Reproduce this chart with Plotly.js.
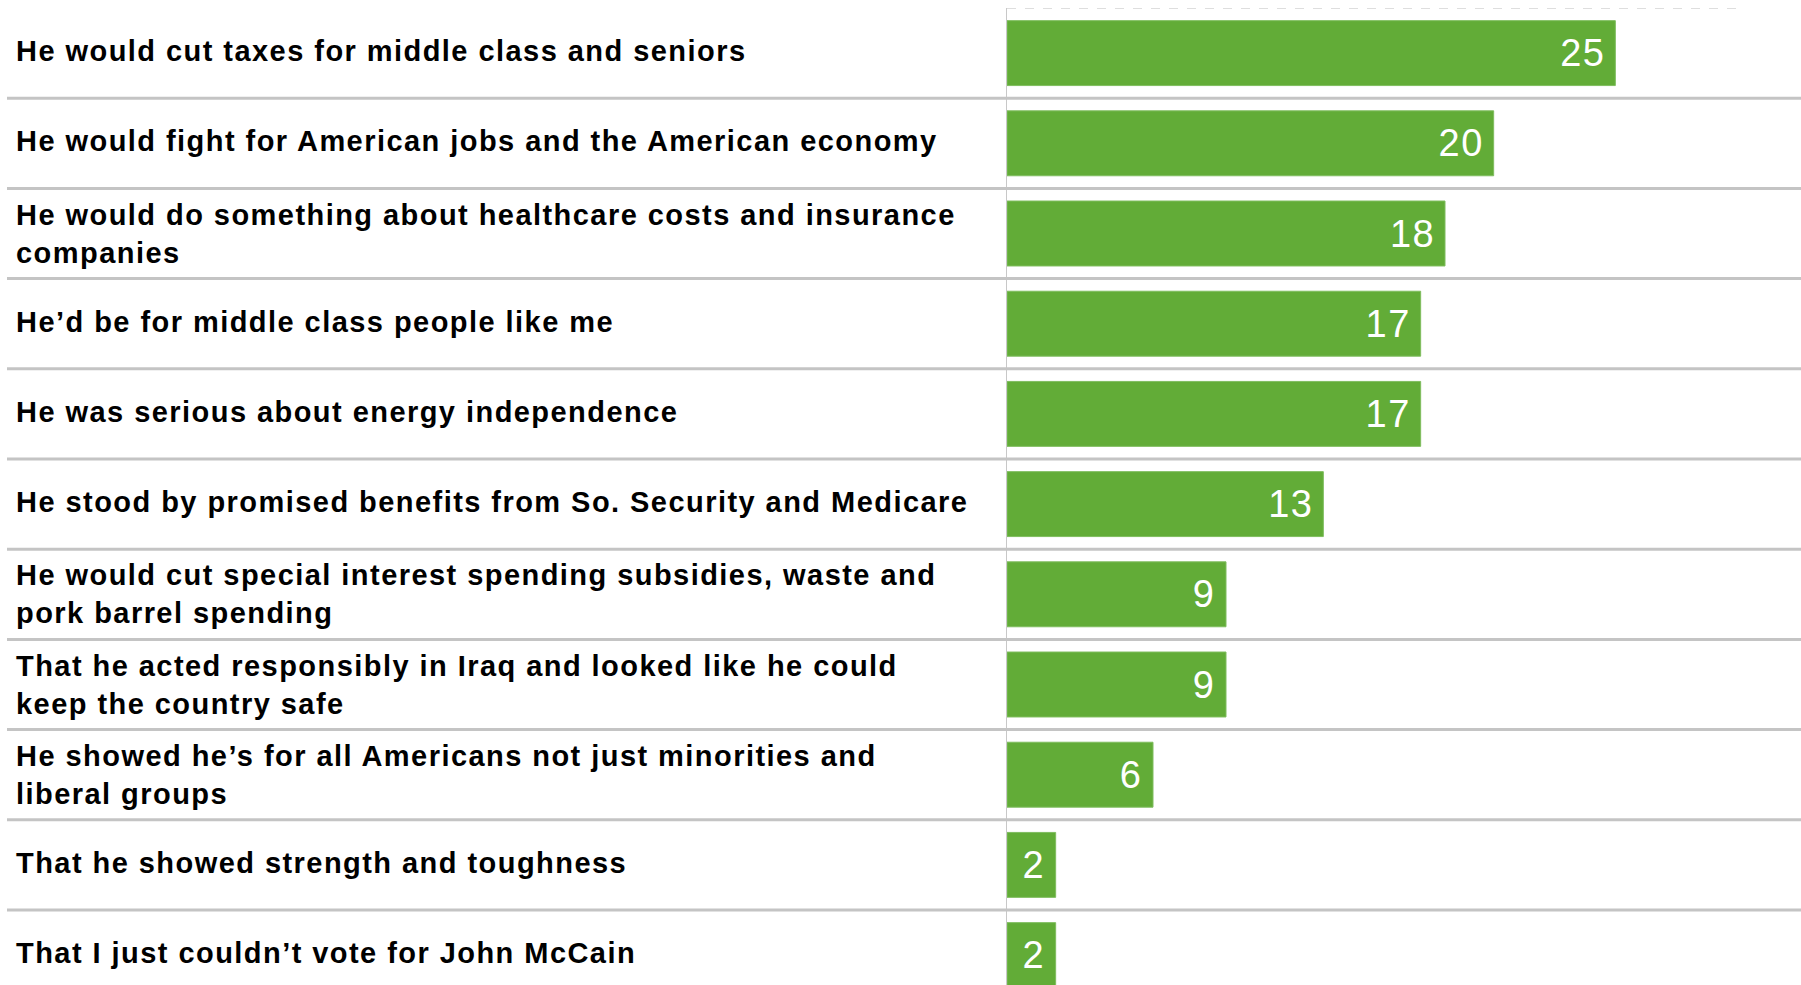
<!DOCTYPE html>
<html>
<head>
<meta charset="utf-8">
<script src="https://cdn.plot.ly/plotly-3.0.1.min.js"></script>
<style>
html,body{margin:0;padding:0;background:#fff;}
#chart{width:1801px;height:985px;}
#chart .annotation-text{letter-spacing:1.45px;}
#chart .bartext{letter-spacing:1.5px;}
</style>
</head>
<body>
<div id="chart"></div>
<script>
var categories = [
  "He would cut taxes for middle class and seniors",
  "He would fight for American jobs and the American economy",
  "He would do something about healthcare costs and insurance<br>companies",
  "He\u2019d be for middle class people like me",
  "He was serious about energy independence",
  "He stood by promised benefits from So. Security and Medicare",
  "He would cut special interest spending subsidies, waste and<br>pork barrel spending",
  "That he acted responsibly in Iraq and looked like he could<br>keep the country safe",
  "He showed he\u2019s for all Americans not just minorities and<br>liberal groups",
  "That he showed strength and toughness",
  "That I just couldn\u2019t vote for John McCain"
];
var values = [25, 20, 18, 17, 17, 13, 9, 9, 6, 2, 2];

var W = 1801, H = 985;
var plotLeft = 1007, plotRight = 1737, plotTop = 8;
var plotW = plotRight - plotLeft;
var pitch = 90.2;
var plotH = H - plotTop;
var yBottom = -0.5 + plotH / pitch;

var trace = {
  type: 'bar',
  orientation: 'h',
  y: categories,
  x: values,
  marker: {color: '#62ac37', line: {color: '#7fbd5e', width: 1}},
  texttemplate: '%{x}\u2009',
  textposition: 'inside',
  insidetextanchor: 'end',
  constraintext: 'none',
  textfont: {family: 'Arial, "Liberation Sans", sans-serif', size: 38, color: '#ffffff'},
  hoverinfo: 'none',
  cliponaxis: true
};

var shapes = [];
for (var i = 0; i <= categories.length - 1; i++) {
  shapes.push({
    type: 'line', xref: 'x', yref: 'y',
    x0: 0, x1: 30, y0: i - 0.5, y1: i - 0.5,
    line: {color: '#d4d4d4', width: 1.5, dash: 'dash'},
    layer: 'below'
  });
}
var pxToPaper = function (px) { return (px - plotLeft) / plotW; };
for (var j = 0; j < categories.length - 1; j++) {
  shapes.push({
    type: 'line', xref: 'paper', yref: 'y',
    x0: pxToPaper(7), x1: pxToPaper(W + 5), y0: j + 0.5, y1: j + 0.5,
    line: {color: '#c4c4c4', width: 3},
    layer: 'above'
  });
}

var annotations = categories.map(function (c, k) {
  return {
    xref: 'paper', yref: 'y',
    x: pxToPaper(14), y: k,
    xanchor: 'left', yanchor: 'middle', align: 'left',
    text: c, showarrow: false,
    yshift: c.indexOf('<br>') >= 0 ? 0 : 2,
    font: {family: 'Arial, "Liberation Sans", sans-serif', size: 29, color: '#000000', weight: 'bold'}
  };
});

var layout = {
  width: W, height: H,
  margin: {l: plotLeft, r: W - plotRight, t: plotTop, b: 0, pad: 0},
  paper_bgcolor: '#ffffff',
  plot_bgcolor: '#ffffff',
  showlegend: false,
  bargap: 0.28,
  xaxis: {
    range: [0, 30], showgrid: false, zeroline: false, showticklabels: false,
    ticks: '', showline: false, fixedrange: true
  },
  yaxis: {
    type: 'category', range: [yBottom, -0.5], showgrid: false, zeroline: false,
    showticklabels: false, ticks: '', showline: true, linecolor: '#c8c8c8', linewidth: 1,
    fixedrange: true
  },
  shapes: shapes,
  annotations: annotations
};

Plotly.newPlot('chart', [trace], layout, {displayModeBar: false, staticPlot: true});
</script>
</body>
</html>
